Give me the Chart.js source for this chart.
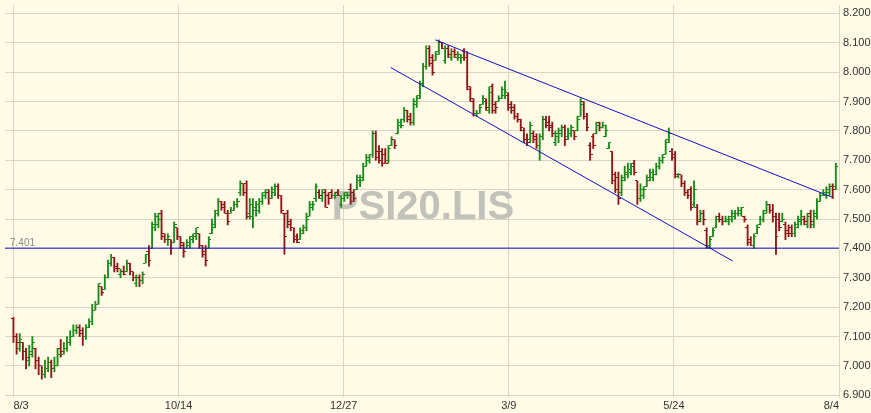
<!DOCTYPE html>
<html><head><meta charset="utf-8">
<script src="https://cdn.jsdelivr.net/npm/chart.js@4/dist/chart.umd.min.js"></script>
<style>html,body{margin:0;padding:0;background:#FFFBE6;}canvas{display:block;}</style>
</head><body>
<canvas id="c" width="871" height="413"></canvas>
<script>
const symbol = 'PSI20.LIS';
const tickLabels = ['8/3','10/14','12/27','3/9','5/24','8/4'];
const tickAt = [0, 52.4, 104.8, 157.2, 209.6, 262];
const yTicks = [6.9,7.0,7.1,7.2,7.3,7.4,7.5,7.6,7.7,7.8,7.9,8.0,8.1,8.2];
const supportLevel = 7.401;
const upperChannel = [{x:133.9,y:8.110},{x:259.9,y:7.574}];
const lowerChannel = [{x:119.7,y:8.016},{x:228.3,y:7.357}];

const opens = [7.16,7.10,7.06,7.08,7.05,7.02,7.04,7.06,7.02,7.00,
6.97,6.99,7.01,6.99,7.00,7.06,7.04,7.06,7.08,7.10,
7.12,7.13,7.12,7.10,7.13,7.15,7.19,7.21,7.27,7.26,
7.30,7.35,7.37,7.34,7.31,7.32,7.32,7.35,7.32,7.28,
7.30,7.29,7.35,7.39,7.40,7.47,7.48,7.52,7.45,7.43,
7.43,7.42,7.47,7.44,7.42,7.40,7.41,7.43,7.44,7.45,
7.41,7.39,7.40,7.45,7.48,7.52,7.56,7.55,7.52,7.52,
7.53,7.55,7.59,7.62,7.62,7.52,7.51,7.54,7.53,7.56,
7.58,7.59,7.57,7.59,7.61,7.58,7.52,7.52,7.49,7.47,
7.44,7.43,7.45,7.47,7.51,7.54,7.57,7.59,7.57,7.59,
7.58,7.59,7.58,7.59,7.55,7.57,7.58,7.60,7.59,7.60,
7.63,7.64,7.68,7.70,7.72,7.79,7.73,7.73,7.72,7.70,
7.75,7.77,7.79,7.82,7.84,7.87,7.85,7.83,7.89,7.92,
7.96,8.02,8.08,8.05,8.04,8.07,8.10,8.04,8.08,8.05,
8.07,8.05,8.05,8.07,8.05,7.94,7.90,7.86,7.86,7.89,
7.90,7.87,7.95,7.89,7.90,7.91,7.92,7.92,7.89,7.88,
7.85,7.84,7.80,7.77,7.77,7.79,7.78,7.75,7.78,7.84,
7.83,7.82,7.76,7.78,7.79,7.81,7.78,7.79,7.80,7.80,
7.85,7.90,7.85,7.75,7.78,7.79,7.83,7.81,7.78,7.74,
7.73,7.65,7.64,7.59,7.64,7.65,7.66,7.69,7.63,7.57,
7.58,7.61,7.63,7.64,7.65,7.68,7.70,7.72,7.77,7.73,
7.72,7.645,7.65,7.62,7.59,7.60,7.55,7.54,7.50,7.52,
7.46,7.41,7.44,7.47,7.51,7.50,7.49,7.49,7.50,7.51,
7.52,7.52,7.51,7.47,7.43,7.41,7.45,7.48,7.50,7.53,
7.55,7.53,7.51,7.50,7.49,7.48,7.46,7.47,7.45,7.47,
7.49,7.50,7.48,7.52,7.48,7.51,7.56,7.58,7.58,7.59,
7.61,7.61];
const highs = [7.165,7.11,7.11,7.08,7.06,7.07,7.10,7.06,7.03,7.00,
7.02,7.03,7.02,7.03,7.06,7.09,7.08,7.10,7.12,7.14,
7.14,7.14,7.13,7.14,7.16,7.21,7.22,7.28,7.27,7.31,
7.36,7.38,7.37,7.35,7.33,7.34,7.36,7.35,7.32,7.31,
7.31,7.32,7.38,7.41,7.49,7.52,7.52,7.53,7.45,7.45,
7.43,7.49,7.47,7.44,7.42,7.43,7.44,7.45,7.47,7.45,
7.41,7.41,7.44,7.50,7.53,7.57,7.56,7.56,7.53,7.54,
7.56,7.57,7.63,7.62,7.63,7.57,7.57,7.56,7.57,7.59,
7.60,7.60,7.61,7.62,7.62,7.58,7.52,7.53,7.50,7.47,
7.45,7.47,7.48,7.52,7.56,7.56,7.62,7.60,7.60,7.60,
7.59,7.60,7.59,7.60,7.58,7.59,7.59,7.62,7.60,7.65,
7.65,7.69,7.72,7.72,7.80,7.80,7.75,7.74,7.74,7.75,
7.78,7.77,7.84,7.84,7.88,7.87,7.86,7.91,7.92,7.97,
8.03,8.09,8.09,8.06,8.07,8.11,8.10,8.09,8.09,8.08,
8.08,8.07,8.06,8.08,8.07,7.95,7.91,7.87,7.89,7.92,
7.91,7.95,7.96,7.90,7.92,7.95,7.97,7.93,7.90,7.89,
7.86,7.84,7.81,7.79,7.83,7.80,7.79,7.79,7.85,7.85,
7.85,7.83,7.80,7.81,7.82,7.82,7.81,7.82,7.80,7.85,
7.91,7.90,7.86,7.76,7.79,7.83,7.83,7.83,7.82,7.76,
7.73,7.66,7.66,7.65,7.68,7.69,7.69,7.70,7.63,7.62,
7.61,7.65,7.67,7.67,7.69,7.71,7.72,7.77,7.81,7.74,
7.73,7.655,7.65,7.63,7.60,7.61,7.63,7.55,7.53,7.53,
7.47,7.44,7.47,7.51,7.52,7.51,7.51,7.51,7.53,7.53,
7.54,7.54,7.51,7.48,7.44,7.45,7.48,7.51,7.53,7.56,
7.55,7.55,7.52,7.52,7.52,7.49,7.48,7.48,7.49,7.51,
7.53,7.51,7.52,7.53,7.53,7.57,7.59,7.60,7.61,7.62,
7.62,7.69];
const lows = [7.08,7.04,7.05,7.02,6.99,7.00,7.03,6.99,6.97,6.955,
6.96,6.98,6.96,6.98,7.00,7.03,7.04,7.05,7.07,7.10,
7.11,7.10,7.07,7.09,7.13,7.14,7.19,7.21,7.24,7.26,
7.30,7.34,7.32,7.32,7.30,7.31,7.32,7.31,7.29,7.27,
7.27,7.28,7.35,7.34,7.40,7.46,7.47,7.43,7.42,7.41,
7.38,7.42,7.43,7.40,7.37,7.40,7.40,7.42,7.43,7.40,
7.37,7.34,7.40,7.45,7.47,7.51,7.53,7.52,7.48,7.52,
7.53,7.54,7.58,7.58,7.50,7.50,7.47,7.51,7.52,7.55,
7.57,7.55,7.57,7.58,7.57,7.52,7.38,7.47,7.46,7.42,
7.42,7.43,7.45,7.46,7.51,7.53,7.56,7.57,7.56,7.54,
7.55,7.57,7.57,7.58,7.54,7.56,7.57,7.55,7.56,7.60,
7.61,7.63,7.68,7.69,7.71,7.70,7.69,7.68,7.69,7.69,
7.75,7.74,7.79,7.81,7.83,7.83,7.82,7.82,7.88,7.91,
7.95,8.01,8.02,7.99,8.04,8.06,8.08,8.03,8.05,8.04,
8.05,8.04,8.03,8.04,7.94,7.90,7.85,7.85,7.86,7.89,
7.87,7.86,7.86,7.86,7.90,7.91,7.91,7.87,7.86,7.84,
7.83,7.80,7.76,7.75,7.76,7.76,7.74,7.70,7.77,7.81,
7.80,7.78,7.75,7.76,7.78,7.75,7.77,7.78,7.77,7.80,
7.85,7.84,7.80,7.70,7.74,7.79,7.80,7.81,7.78,7.74,
7.62,7.59,7.55,7.58,7.63,7.64,7.65,7.65,7.55,7.56,
7.57,7.61,7.63,7.63,7.65,7.67,7.69,7.72,7.76,7.70,
7.64,7.64,7.61,7.58,7.57,7.53,7.54,7.48,7.49,7.48,
7.40,7.40,7.44,7.47,7.49,7.48,7.49,7.48,7.49,7.50,
7.51,7.51,7.49,7.41,7.41,7.40,7.45,7.48,7.49,7.52,
7.52,7.49,7.38,7.46,7.49,7.43,7.44,7.44,7.44,7.47,
7.48,7.48,7.47,7.47,7.47,7.50,7.56,7.58,7.57,7.58,
7.57,7.60];
const closes = [7.10,7.08,7.09,7.05,7.03,7.05,7.08,7.02,7.00,6.97,
6.99,7.01,6.99,7.00,7.04,7.05,7.06,7.08,7.10,7.12,
7.13,7.11,7.10,7.13,7.15,7.19,7.21,7.28,7.25,7.30,
7.35,7.37,7.33,7.33,7.32,7.31,7.35,7.32,7.30,7.30,
7.29,7.31,7.38,7.36,7.48,7.51,7.50,7.44,7.43,7.44,
7.40,7.48,7.44,7.41,7.39,7.42,7.44,7.45,7.47,7.41,
7.38,7.36,7.43,7.47,7.53,7.56,7.54,7.52,7.49,7.53,
7.55,7.56,7.62,7.59,7.51,7.55,7.53,7.55,7.56,7.59,
7.60,7.57,7.60,7.61,7.58,7.53,7.44,7.48,7.47,7.43,
7.42,7.46,7.47,7.50,7.55,7.55,7.61,7.58,7.60,7.54,
7.57,7.58,7.58,7.58,7.57,7.59,7.58,7.56,7.57,7.64,
7.63,7.68,7.71,7.72,7.79,7.71,7.70,7.69,7.69,7.74,
7.77,7.75,7.83,7.82,7.87,7.84,7.83,7.90,7.91,7.96,
8.02,8.08,8.03,8.00,8.06,8.10,8.08,8.08,8.06,8.07,
8.06,8.06,8.05,8.05,7.95,7.91,7.86,7.86,7.88,7.91,
7.88,7.93,7.87,7.88,7.91,7.94,7.93,7.88,7.87,7.85,
7.84,7.81,7.77,7.76,7.82,7.77,7.75,7.78,7.84,7.82,
7.81,7.79,7.79,7.80,7.81,7.77,7.79,7.81,7.78,7.84,
7.89,7.85,7.81,7.72,7.75,7.82,7.81,7.82,7.80,7.76,
7.63,7.60,7.57,7.63,7.66,7.67,7.68,7.66,7.57,7.60,
7.60,7.64,7.66,7.65,7.68,7.70,7.71,7.76,7.79,7.71,
7.65,7.65,7.62,7.59,7.58,7.54,7.60,7.49,7.52,7.50,
7.41,7.43,7.46,7.50,7.50,7.49,7.50,7.51,7.52,7.52,
7.53,7.54,7.50,7.42,7.41,7.44,7.47,7.50,7.52,7.55,
7.53,7.51,7.44,7.47,7.50,7.45,7.45,7.45,7.48,7.50,
7.51,7.49,7.51,7.49,7.52,7.56,7.58,7.59,7.60,7.61,
7.60,7.68];

const UP = '#1A8A1A', DOWN = '#8E1616', BLUE = '#1010C8', GRID = '#D9D6C6';
const isUp = i => closes[i] >= opens[i];

function tickImg(color, left) {
  const c = document.createElement('canvas');
  c.width = 5; c.height = 1;
  const g = c.getContext('2d');
  g.fillStyle = color;
  g.fillRect(left ? 0 : 3, 0, 2, 1);
  return c;
}
const openUp = tickImg(UP, true), openDn = tickImg(DOWN, true);
const closeUp = tickImg(UP, false), closeDn = tickImg(DOWN, false);

const idx = opens.map((_, i) => i);
const hlData = idx.map(i => ({x: i, y: [lows[i], highs[i]]}));
const openData = idx.map(i => ({x: i, y: opens[i]}));
const closeData = idx.map(i => ({x: i, y: closes[i]}));

const X_MIN = -2.68, X_MAX = 262;

const decor = {
  id: 'decor',
  beforeDatasetsDraw(chart) {
    const {ctx} = chart;
    ctx.save();
    ctx.font = 'bold 40px "Liberation Sans", Arial, sans-serif';
    ctx.fillStyle = '#C2C1BA';
    ctx.textAlign = 'center';
    ctx.textBaseline = 'middle';
    ctx.fillText(symbol, 423, 208);
    ctx.restore();
    ctx.imageSmoothingEnabled = false;
  },
  afterDatasetsDraw(chart) {
    const {ctx} = chart;
    ctx.imageSmoothingEnabled = true;
    const y = chart.scales.y.getPixelForValue(supportLevel);
    ctx.save();
    ctx.font = '10px "Liberation Sans", Arial, sans-serif';
    ctx.fillStyle = '#8A8A8A';
    ctx.textAlign = 'left';
    ctx.textBaseline = 'alphabetic';
    ctx.fillText(supportLevel.toFixed(3), 10, y - 2);
    ctx.restore();
  }
};

new Chart(document.getElementById('c'), {
  data: {
    datasets: [
      {type: 'line', data: [{x: X_MIN, y: supportLevel}, {x: X_MAX, y: supportLevel}], borderColor: BLUE, borderWidth: 1, pointRadius: 0, order: 0},
      {type: 'line', data: upperChannel, borderColor: BLUE, borderWidth: 1, pointRadius: 0, order: 0},
      {type: 'line', data: lowerChannel, borderColor: BLUE, borderWidth: 1, pointRadius: 0, order: 0},
      {type: 'bar', data: hlData, barThickness: 1.2, grouped: false, borderWidth: 0,
        backgroundColor: c => isUp(c.dataIndex) ? UP : DOWN, order: 2},
      {type: 'scatter', data: openData, pointStyle: c => isUp(c.dataIndex) ? openUp : openDn, pointRadius: 3, order: 1},
      {type: 'scatter', data: closeData, pointStyle: c => isUp(c.dataIndex) ? closeUp : closeDn, pointRadius: 3, order: 1}
    ]
  },
  options: {
    responsive: false,
    animation: false,
    devicePixelRatio: 1,
    layout: {padding: {top: 2, left: 0, right: 0, bottom: 0}},
    plugins: {legend: {display: false}, tooltip: {enabled: false}},
    events: [],
    scales: {
      x: {
        type: 'linear', min: X_MIN, max: X_MAX, offset: false,
        afterBuildTicks: s => { s.ticks = tickAt.map(v => ({value: v})); },
        afterFit: s => { s.height = 16; s.paddingLeft = 0; s.paddingRight = 0; },
        ticks: {autoSkip: false, maxRotation: 0, align: 'inner', padding: 2,
          color: '#333333', font: {family: '"Liberation Sans", Arial', size: 11},
          callback: (v, i) => tickLabels[i]},
        grid: {color: GRID, drawTicks: false, offset: false},
        border: {display: false}
      },
      y: {
        type: 'linear', position: 'right', min: 6.8942, max: 8.2287,
        afterBuildTicks: s => { s.ticks = yTicks.map(v => ({value: v})); },
        afterFit: s => { s.width = 32; s.paddingTop = 0; s.paddingBottom = 0; },
        ticks: {padding: 4, color: '#333333', font: {family: '"Liberation Sans", Arial', size: 11},
          callback: v => v.toFixed(3)},
        grid: {color: GRID, drawTicks: false},
        border: {display: true, color: GRID}
      }
    }
  },
  plugins: [decor]
});
</script>
</body></html>
